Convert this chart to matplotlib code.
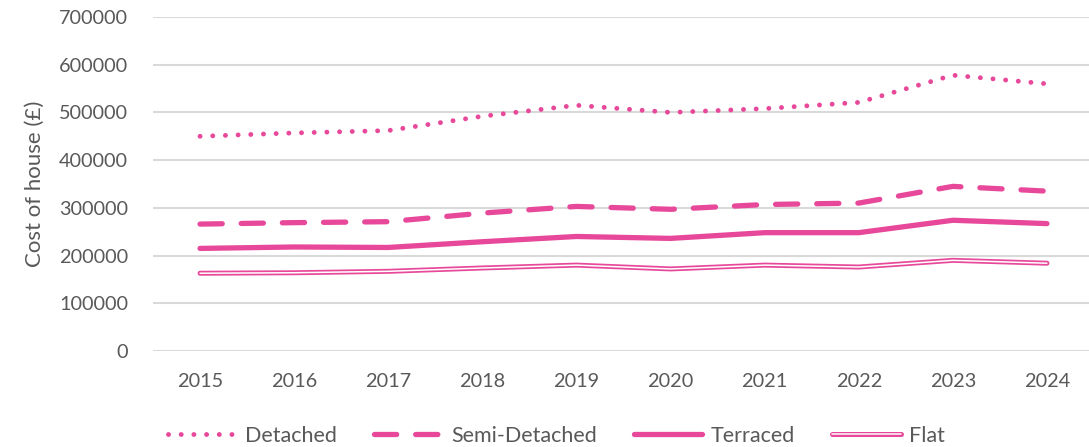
import matplotlib.pyplot as plt
import matplotlib.patheffects as pe

years = ['2015', '2016', '2017', '2018', '2019', '2020', '2021', '2022', '2023', '2024']
detached = [450000, 457000, 462000, 492000, 515000, 500000, 508000, 521000, 578000, 560000]
semi_detached = [266000, 269000, 271000, 289000, 303000, 297000, 307000, 310000, 345000, 335000]
terraced = [215000, 218000, 217000, 229000, 240000, 236000, 248000, 248000, 274000, 267000]
flat = [163000, 164000, 167000, 174000, 180000, 172000, 180000, 176000, 190000, 184000]
yticks = [0, 100000, 200000, 300000, 400000, 500000, 600000, 700000]

PINK = '#E8489A'
GREY = '#595959'

plt.rcParams['font.family'] = ['Lato', 'DejaVu Sans']

fig = plt.figure(figsize=(10.89, 4.47), dpi=100)
ax = fig.add_axes([153 / 1089, 1 - 351 / 447, (1094 - 153) / 1089, (351 - 17) / 447])

x = list(range(len(years)))

ax.plot(x, detached, color=PINK, lw=3.5, linestyle=(0, (0.01, 2.6)),
        dash_capstyle='round', label='Detached')
ax.plot(x, semi_detached, color=PINK, lw=3.8, linestyle=(0, (4.2, 3.6)),
        dash_capstyle='round', label='Semi-Detached')
ax.plot(x, terraced, color=PINK, lw=3.8, solid_capstyle='round', label='Terraced')
# double line: pink outline with a white core
ax.plot(x, flat, color='white', lw=1.1, solid_capstyle='round', label='Flat',
        path_effects=[pe.Stroke(linewidth=3.6, foreground=PINK), pe.Normal()])

ax.set_xlim(-0.5, 9.5)
ax.set_ylim(0, 700000)
ax.set_xticks(x)
ax.set_xticklabels(years)
ax.set_yticks(yticks)
ax.set_yticklabels([str(v) for v in yticks])
ax.tick_params(axis='both', length=0, labelsize=14.3, labelcolor=GREY)
ax.tick_params(axis='y', pad=18)
ax.tick_params(axis='x', pad=16)
for s in ax.spines.values():
    s.set_visible(False)
ax.grid(axis='y', color='#D9D9D9', lw=1.5)
ax.set_axisbelow(True)
ax.set_ylabel('Cost of house (£)', fontsize=16, color=GREY, labelpad=10)

fig.legend(loc='lower center', bbox_to_anchor=(0.511, -0.04), ncol=4, frameon=False,
           fontsize=15.5, labelcolor=GREY, handlelength=3.2, columnspacing=1.7,
           handletextpad=0.4)

fig.savefig('out.png', dpi=100)
